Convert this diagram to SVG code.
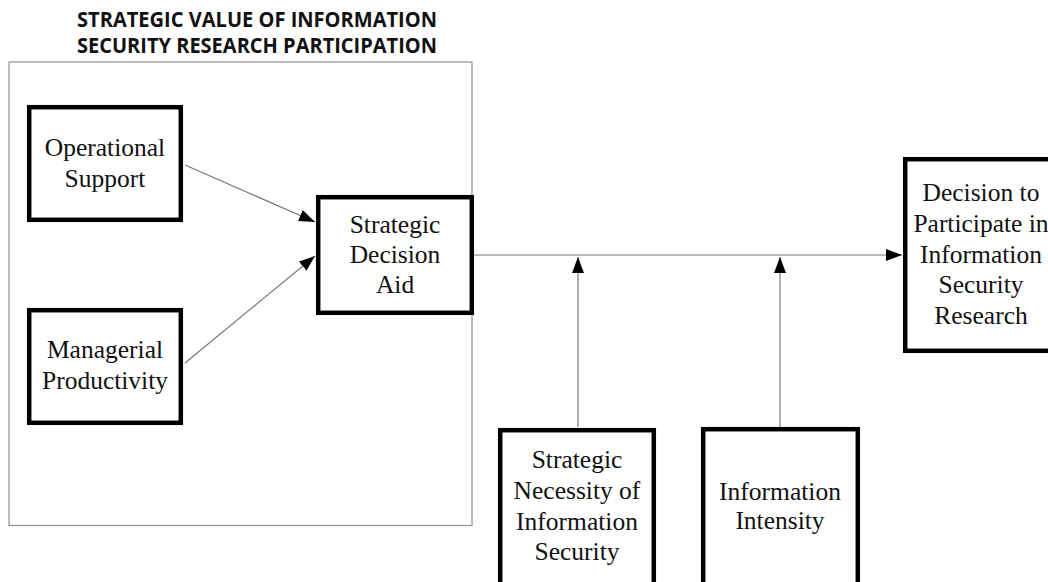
<svg xmlns="http://www.w3.org/2000/svg" width="1048" height="582" viewBox="0 0 1048 582">
<defs>
<marker id="ah" viewBox="0 0 16 12" refX="16" refY="6" markerWidth="16" markerHeight="12" markerUnits="userSpaceOnUse" orient="auto">
<path d="M0,0 L16,6 L0,12 Z" fill="#000"/>
</marker>
<style>
.box{fill:#fff;stroke:#000;stroke-width:4.5}
.lbl{font-family:"Liberation Serif","Times New Roman",serif;font-size:25.5px;fill:#111;text-anchor:middle}
.title{font-family:"Open Sans","Liberation Sans",sans-serif;font-weight:bold;font-size:20.5px;fill:#111}
.conn{stroke:#777;stroke-width:1.2;fill:none}
</style>
</defs>
<rect width="1048" height="582" fill="#fff"/>
<g id="container">
<rect x="9" y="62" width="463" height="463.5" fill="none" stroke="#999" stroke-width="1.3"/>
<text class="title" x="77" y="27" textLength="360" lengthAdjust="spacingAndGlyphs">STRATEGIC VALUE OF INFORMATION</text>
<text class="title" x="77" y="53" textLength="360" lengthAdjust="spacingAndGlyphs">SECURITY RESEARCH PARTICIPATION</text>
</g>
<g id="connectors">
<line class="conn" x1="185" y1="165" x2="315" y2="222" marker-end="url(#ah)"/>
<line class="conn" x1="185" y1="363" x2="315" y2="256" marker-end="url(#ah)"/>
<line class="conn" x1="474" y1="255" x2="902" y2="255" marker-end="url(#ah)"/>
<line class="conn" x1="578" y1="427" x2="578" y2="257" marker-end="url(#ah)"/>
<line class="conn" x1="780" y1="427" x2="780" y2="257" marker-end="url(#ah)"/>
</g>
<g id="operational-support">
<rect class="box" x="29.2" y="107.2" width="151.6" height="112.6"/>
<text class="lbl" x="105" y="156">Operational</text>
<text class="lbl" x="105" y="187">Support</text>
</g>
<g id="managerial-productivity">
<rect class="box" x="29.2" y="310.2" width="151.6" height="112.6"/>
<text class="lbl" x="105" y="358">Managerial</text>
<text class="lbl" x="105" y="389">Productivity</text>
</g>
<g id="strategic-decision-aid">
<rect class="box" x="318.2" y="197.2" width="153.6" height="115.6"/>
<text class="lbl" x="395" y="233">Strategic</text>
<text class="lbl" x="395" y="263">Decision</text>
<text class="lbl" x="395" y="293">Aid</text>
</g>
<g id="decision-to-participate">
<rect class="box" x="905.2" y="159.2" width="160" height="191.6"/>
<text class="lbl" x="981" y="201">Decision to</text>
<text class="lbl" x="981" y="232">Participate in</text>
<text class="lbl" x="981" y="263">Information</text>
<text class="lbl" x="981" y="293">Security</text>
<text class="lbl" x="981" y="324">Research</text>
</g>
<g id="strategic-necessity">
<rect class="box" x="500.2" y="430.2" width="153.6" height="170"/>
<text class="lbl" x="577" y="468">Strategic</text>
<text class="lbl" x="577" y="499">Necessity of</text>
<text class="lbl" x="577" y="530">Information</text>
<text class="lbl" x="577" y="560">Security</text>
</g>
<g id="information-intensity">
<rect class="box" x="703.2" y="429.2" width="154.6" height="170"/>
<text class="lbl" x="780" y="500">Information</text>
<text class="lbl" x="780" y="529">Intensity</text>
</g>
</svg>
